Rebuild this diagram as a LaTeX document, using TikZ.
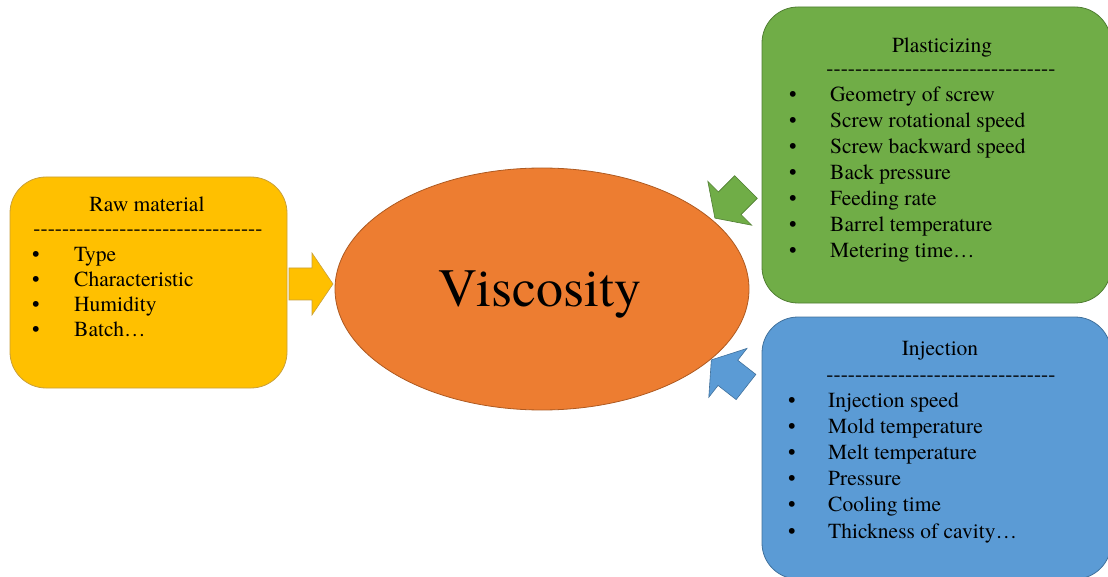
\documentclass[tikz,border=0pt]{standalone}
\usepackage{fontspec}
\setmainfont{texgyretermes-regular.otf}
\usetikzlibrary{shapes.geometric}
\definecolor{cyellow}{HTML}{FFC000}
\definecolor{cyellowd}{HTML}{C9A03A}
\definecolor{cgreen}{HTML}{70AD47}
\definecolor{cgreend}{HTML}{507E32}
\definecolor{cblue}{HTML}{5B9BD5}
\definecolor{cblued}{HTML}{41719C}
\definecolor{corange}{HTML}{ED7D31}
\definecolor{corand}{HTML}{AE5A21}
\newcommand\dashrow{\foreach\k in{1,...,32}{-\kern0pt}}
\tikzset{
  infobox/.style={draw, line width=0.8pt, rounded corners=36pt},
  txt/.style={inner sep=0pt, anchor=base west, font=\rmfamily\fontsize{21.5}{26}\selectfont},
  ttl/.style={inner sep=0pt, anchor=base, font=\rmfamily\fontsize{21.5}{26}\selectfont},
  bul/.style={inner sep=0pt, anchor=base, font=\rmfamily\fontsize{21.5}{26}\selectfont},
  blockarrow/.style={line width=0.6pt}
}
\begin{document}
\begin{tikzpicture}[x=1pt,y=-1pt]
\useasboundingbox (0,0) rectangle (1108,577);
% boxes
\draw[infobox, fill=cyellow, draw=cyellowd] (10,177) rectangle (287,388);
\coordinate (raw) at (148,282);
\draw[infobox, fill=cgreen, draw=cgreend] (762,7) rectangle (1111,303);
\coordinate (plast) at (936,155);
\draw[infobox, fill=cblue, draw=cblued] (762,317) rectangle (1111,579);
\coordinate (inj) at (936,448);
% ellipse
\node[ellipse, draw=corand, line width=0.8pt, fill=corange, minimum width=414pt, minimum height=242pt, inner sep=0pt] (visc) at (542,289) {};
\node[inner sep=0pt, anchor=base, font=\rmfamily\fontsize{54}{60}\selectfont] (vt) at (540,306) {Viscosity};
% block arrows
\begin{scope}[shift={(289,284)}]
\draw[blockarrow, fill=cyellow, draw=cyellowd] (0,-16) -- (23,-16) -- (23,-31) -- (44,0) -- (23,31) -- (23,16) -- (0,16) -- cycle;
\end{scope}
\begin{scope}[shift={(746,187)}, rotate=225]
\draw[blockarrow, fill=cgreen, draw=cgreend] (0,-16) -- (23,-16) -- (23,-31) -- (44,0) -- (23,31) -- (23,16) -- (0,16) -- cycle;
\end{scope}
\begin{scope}[shift={(746,387)}, rotate=142]
\draw[blockarrow, fill=cblue, draw=cblued] (0,-16) -- (23,-16) -- (23,-31) -- (44,0) -- (23,31) -- (23,16) -- (0,16) -- cycle;
\end{scope}
% raw material text
\node[ttl] (rt) at (147,212) {Raw material};
\node[ttl] (rd) at (148,236) {\dashrow};
\foreach \t [count=\i] in {Type,Characteristic,Humidity,Batch…}{
  \node[bul] (rb\i) at (36,{262+(\i-1)*24.7}) {•};
  \node[txt] (ri\i) at (74,{262+(\i-1)*24.7}) {\t};
}
% plasticizing text
\node[ttl] (pt) at (942,53) {Plasticizing};
\node[ttl] (pd) at (941,76) {\dashrow};
\foreach \t [count=\i] in {Geometry of screw,Screw rotational speed,Screw backward speed,Back pressure,Feeding rate,Barrel temperature,Metering time…}{
  \node[bul] (pb\i) at (793,{102+(\i-1)*25.9}) {•};
  \node[txt] (pi\i) at (830,{102+(\i-1)*25.9}) {\t};
}
% injection text
\node[ttl] (it) at (940,355) {Injection};
\node[ttl] (id) at (941,381) {\dashrow};
\foreach \t [count=\i] in {Injection speed,Mold temperature,Melt temperature,Pressure,Cooling time,Thickness of cavity…}{
  \node[bul] (ib\i) at (792,{407+(\i-1)*26.2}) {•};
  \node[txt] (ii\i) at (828,{407+(\i-1)*26.2}) {\t};
}
\end{tikzpicture}
\end{document}
